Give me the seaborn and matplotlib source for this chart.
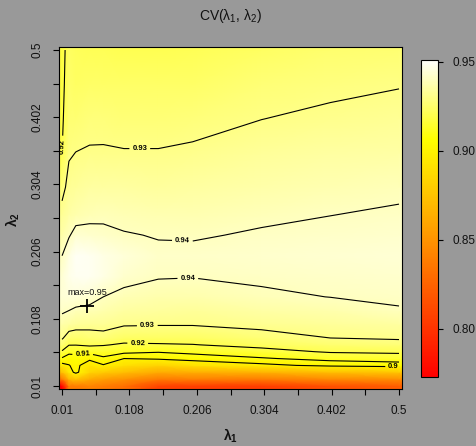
import numpy as np
import matplotlib
matplotlib.use("Agg")
import matplotlib.pyplot as plt
from matplotlib.colors import ListedColormap, hsv_to_rgb, Normalize
import seaborn as sns

# ---------------- data ----------------
lam1 = [0.01, 0.02, 0.03, 0.05, 0.07, 0.10, 0.15, 0.20, 0.30, 0.40, 0.50]
lam2 = [0.01, 0.02, 0.03, 0.04, 0.05, 0.06, 0.07, 0.08, 0.10, 0.12,
        0.14, 0.17, 0.20, 0.23, 0.26, 0.30, 0.35, 0.40, 0.45, 0.50]

# CV values, one list per lambda1 column (bottom -> top in lambda2)
cv_l001 = [0.773, 0.835, 0.872, 0.896, 0.9087, 0.919, 0.926, 0.931, 0.9362, 0.9412,
           0.9435, 0.9438, 0.9400, 0.9362, 0.9325, 0.9275, 0.9200, 0.9185, 0.9175, 0.9170]
cv_l002 = [0.838, 0.868, 0.893, 0.8995, 0.905, 0.9128, 0.9204, 0.9258, 0.9345, 0.9400,
           0.9445, 0.9475, 0.9455, 0.9392, 0.9355, 0.9325, 0.9292, 0.9265, 0.9250, 0.9238]
cv_l003 = [0.838, 0.875, 0.904, 0.903, 0.906, 0.913, 0.9203, 0.925, 0.9335, 0.9385,
           0.9445, 0.9488, 0.9495, 0.9430, 0.9365, 0.9335, 0.9301, 0.9265, 0.9235, 0.9220]
cv_l005 = [0.842, 0.862, 0.884, 0.893, 0.9024, 0.9133, 0.9214, 0.926, 0.9328, 0.9378,
           0.9430, 0.9485, 0.9488, 0.9425, 0.9380, 0.9348, 0.9307, 0.9276, 0.9245, 0.9215]
cv_l007 = [0.838, 0.856, 0.878, 0.899, 0.9083, 0.9147, 0.9206, 0.9271, 0.9328, 0.9364,
           0.9400, 0.9462, 0.9465, 0.9418, 0.9385, 0.9349, 0.9308, 0.9275, 0.9245, 0.9215]
cv_l010 = [0.832, 0.850, 0.872, 0.890, 0.900, 0.9129, 0.9188, 0.9235, 0.9309, 0.9345,
           0.9382, 0.9422, 0.9442, 0.9405, 0.9379, 0.9346, 0.9304, 0.9272, 0.9241, 0.9210]
cv_l015 = [0.808, 0.838, 0.862, 0.883, 0.9018, 0.9108, 0.9192, 0.9236, 0.9306, 0.9338,
           0.9369, 0.9405, 0.9413, 0.9396, 0.9373, 0.9342, 0.9304, 0.9272, 0.9241, 0.9210]
cv_l020 = [0.806, 0.840, 0.864, 0.890, 0.9045, 0.9128, 0.9197, 0.9238, 0.9306, 0.9335,
           0.9364, 0.9403, 0.9415, 0.9394, 0.9373, 0.9346, 0.9311, 0.9277, 0.9245, 0.9213]
cv_l030 = [0.805, 0.838, 0.866, 0.897, 0.909, 0.9169, 0.9226, 0.927, 0.932, 0.9351,
           0.9388, 0.9412, 0.9425, 0.9407, 0.9388, 0.9362, 0.9331, 0.9299, 0.9267, 0.9235]
cv_l040 = [0.815, 0.845, 0.872, 0.9029, 0.9133, 0.9209, 0.9255, 0.930, 0.9334, 0.9369,
           0.9401, 0.9418, 0.9430, 0.9415, 0.9399, 0.9375, 0.9345, 0.9314, 0.9284, 0.9254]
cv_l050 = [0.822, 0.848, 0.876, 0.9053, 0.9149, 0.9217, 0.927, 0.9309, 0.935, 0.9396,
           0.9408, 0.9421, 0.9435, 0.9422, 0.9408, 0.9387, 0.9356, 0.9326, 0.9296, 0.9265]

contour_levels = [0.90, 0.91, 0.92, 0.93, 0.94]
max_l1, max_l2, max_val = 0.046, 0.127, 0.95
cv_min, cv_max = 0.773, 0.951

tick_labels = ["0.01", "0.108", "0.206", "0.304", "0.402", "0.5"]
cbar_ticks = [0.80, 0.85, 0.90, 0.95]

# ---------------- style ----------------
sns.set_theme(style="ticks")
plt.rcParams["font.family"] = ["Liberation Sans", "DejaVu Sans"]
plt.rcParams["mathtext.fontset"] = "custom"
plt.rcParams["mathtext.rm"] = "Liberation Sans"
plt.rcParams["mathtext.it"] = "Liberation Sans:italic"
plt.rcParams["mathtext.bf"] = "Liberation Sans:bold"

BG = "#999999"
TXT = "#111111"

# R heat.colors palette
n = 256
j = n // 4
i = n - j
hsv_a = np.column_stack([np.linspace(0, 1 / 6, i), np.ones(i), np.ones(i)])
hsv_b = np.column_stack([np.full(j, 1 / 6),
                         np.linspace(1 - 1 / (2 * j), 1 / (2 * j), j), np.ones(j)])
cmap = ListedColormap(hsv_to_rgb(np.vstack([hsv_a, hsv_b])))
norm = Normalize(vmin=cv_min, vmax=cv_max)

fig = plt.figure(figsize=(4.77, 4.46), dpi=100, facecolor=BG)
ax = fig.add_axes([0.1229, 0.1269, 0.7208, 0.7686])
cax = fig.add_axes([0.8826, 0.1547, 0.0356, 0.7108])

Z = np.column_stack([cv_l001, cv_l002, cv_l003, cv_l005, cv_l007, cv_l010,
                     cv_l015, cv_l020, cv_l030, cv_l040, cv_l050])
x = np.array(lam1)
y = np.array(lam2)
half = 0.005
xe = np.concatenate([[x[0] - half], x, [x[-1] + half]])
ye = np.concatenate([[y[0] - half], y, [y[-1] + half]])
Zp = np.pad(Z, 1, mode="edge")

mesh = ax.pcolormesh(xe, ye, Zp, shading="gouraud", cmap=cmap, norm=norm)

cs = ax.contour(x, y, Z, levels=contour_levels, colors="black", linewidths=0.8)
label_pos = [(0.123, 0.353), (0.0105, 0.36), (0.185, 0.222), (0.193, 0.165),
             (0.134, 0.096), (0.12, 0.071), (0.04, 0.057), (0.492, 0.036)]
labels = ax.clabel(cs, fmt="%g", fontsize=5.5, manual=label_pos, inline=True,
                   inline_spacing=3, colors="black")
for t in labels:
    t.set_fontweight("bold")

sns.scatterplot(x=[max_l1], y=[max_l2], marker="+", s=90, color="black",
                linewidth=1.3, ax=ax, legend=False, zorder=5)
ax.annotate("max=%.2f" % max_val, (max_l1, max_l2), xytext=(0, 9.4),
            textcoords="offset points", ha="center", va="center",
            fontsize=6.5, color=TXT)

ticks = [float(t) for t in tick_labels]
minor = [(a + b) / 2 for a, b in zip(ticks[:-1], ticks[1:])]
ax.set_xlim(x[0] - half, x[-1] + half)
ax.set_ylim(y[0] - half, y[-1] + half)
ax.set_xticks(ticks)
ax.set_xticklabels(tick_labels)
ax.set_yticks(ticks)
ax.set_yticklabels(tick_labels, rotation=90, va="center")
ax.set_xticks(minor, minor=True)
ax.set_yticks(minor, minor=True)
ax.tick_params(axis="both", which="both", direction="out", length=4.3, width=0.8,
               color="black", labelsize=8.5, labelcolor=TXT)
ax.tick_params(axis="x", which="major", pad=7)
ax.tick_params(axis="y", which="major", pad=6.5)
ax.set_xlabel("")
ax.set_ylabel("")
for s in ax.spines.values():
    s.set_visible(True)
    s.set_color("black")
    s.set_linewidth(0.8)

cb = fig.colorbar(mesh, cax=cax, ticks=cbar_ticks, format="%.2f")
cb.ax.tick_params(length=3.6, width=0.8, color="black", labelsize=8.5,
                  labelcolor=TXT, pad=7)
cb.outline.set_edgecolor("black")
cb.outline.set_linewidth(0.8)

fig.text(0.4833, 0.964, r"CV(λ$_1$, λ$_2$)", ha="center", va="center",
         fontsize=10, color=TXT)
fig.text(0.4833, 0.022, r"λ$_\mathbf{1}$", ha="center", va="center",
         fontsize=10, fontweight="bold", color=TXT)
fig.text(0.027, 0.507, r"λ$_\mathbf{2}$", ha="center", va="center",
         fontsize=10, fontweight="bold", rotation=90, color=TXT)

fig.savefig("out.png", dpi=100, facecolor=BG)
